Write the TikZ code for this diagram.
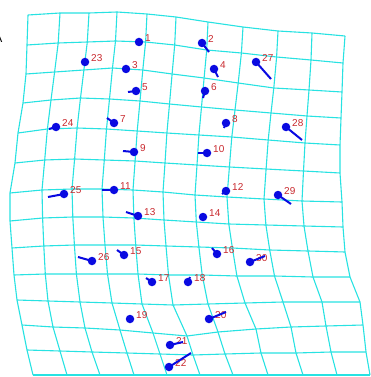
\documentclass[tikz,border=0pt]{standalone}
\usepackage{fontspec}
\setmainfont{Liberation Sans}
\definecolor{gridc}{RGB}{40,226,226}
\definecolor{dotc}{RGB}{10,10,225}
\definecolor{labc}{RGB}{200,40,45}
\begin{document}
\begin{tikzpicture}[x=1pt,y=-1pt,
  gridline/.style={draw=gridc, line width=1.1pt, line join=round},
  dot/.style={circle, fill=dotc, inner sep=0pt, minimum size=8.5pt},
  tail/.style={draw=dotc, line width=2pt},
  lab/.style={anchor=west, inner sep=0pt, text=labc, font=\fontsize{10}{12}\selectfont}]
\useasboundingbox (0,0) rectangle (371,377);
% grid nodes, row by row
\foreach \x/\y [count=\i from 0] in {28/15,60/13,89/13,117/12,147/14,176/17,208/22,243/27,278/31,312/33,345/36} \coordinate (g\i-0) at (\x,\y);
\foreach \x/\y [count=\i from 0] in {27/45,58.2/43,87.3/42,115.5/41,145.6/42,174.7/45,206.7/50,241.4/53,276.6/57,311/60,343/63} \coordinate (g\i-1) at (\x,\y);
\foreach \x/\y [count=\i from 0] in {26/74,54.6/72,83.9/70,112.5/68,142.8/70,172.1/74,204.1/78,238.2/83,273.8/88,309/90,342/92} \coordinate (g\i-2) at (\x,\y);
\foreach \x/\y [count=\i from 0] in {23/103,51/100,80.5/98,109.5/99,140/101,169.5/104,201.5/107,235/110,271/113,307/116,341/118} \coordinate (g\i-3) at (\x,\y);
\foreach \x/\y [count=\i from 0] in {18/133,47.4/129,77.1/128,106.5/129,137.2/131,166.9/133,198.9/135,231.8/137,268.2/140,305/143,340/145} \coordinate (g\i-4) at (\x,\y);
\foreach \x/\y [count=\i from 0] in {15/163,44.7/160,74.6/159,104.3/160,135.1/161,165/163,197/165,229.4/167,266.1/169,303.5/171,340/173} \coordinate (g\i-5) at (\x,\y);
\foreach \x/\y [count=\i from 0] in {10/193,42/190,72/189,102/189,133/190,163/192,195/195,227/197,264/199,302/201,342/202} \coordinate (g\i-6) at (\x,\y);
\foreach \x/\y [count=\i from 0] in {10/221,42.6/218,72.8/217,103/217,133.9/218,164/220,196.3/222,228.8/224,265.9/225,304/226,343/227} \coordinate (g\i-7) at (\x,\y);
\foreach \x/\y [count=\i from 0] in {12/248,43.8/246,74.4/245,105/245,135.7/245,166/246,198.9/247,232.4/248,269.7/250,308/251,345/252} \coordinate (g\i-8) at (\x,\y);
\foreach \x/\y [count=\i from 0] in {14/275,45.3/274,76.4/274,107.5/274,138/274,168.5/275,202.2/275,236.9/276,274.5/276,313/277,350/277} \coordinate (g\i-9) at (\x,\y);
\foreach \x/\y [count=\i from 0] in {17/300,48/301,80/302,112/303,142/304,173/305,208/304,245/303,283/302,322/302,360/302} \coordinate (g\i-10) at (\x,\y);
\foreach \x/\y [count=\i from 0] in {22/325,53/327,85/328,120/330,153/333,187/336,218/332,256/329,291/327,326/326,363/325} \coordinate (g\i-11) at (\x,\y);
\foreach \x/\y [count=\i from 0] in {27/350,60/351,92/352,127/353,160/354,193/355,225/354,261/353,296/353,331/352,366/352} \coordinate (g\i-12) at (\x,\y);
\foreach \x/\y [count=\i from 0] in {33/375,67/375,100/375,134/375,167/375,200/375,233/375,268/375,303/375,337/375,370/375} \coordinate (g\i-13) at (\x,\y);
% grid lines
\foreach \j in {0,...,13} \draw[gridline] (g0-\j) \foreach \i in {1,...,10}{ -- (g\i-\j)};
\foreach \i in {0,...,10} \draw[gridline] (g\i-0) \foreach \j in {1,...,13}{ -- (g\i-\j)};
% cut-off panel letter
\node[anchor=base east, inner sep=0pt, font=\fontsize{12}{14}\selectfont] (panel) at (2.5,43) {A};
% dots and labels
\foreach \n/\x/\y in {1/139/42,2/202/43,3/126/69,4/214/69,5/136/91,6/205/91,7/114/123,8/226/123,9/134/152,10/207/153,11/114/190,12/226/191,13/138/216,14/203/217,15/124/255,16/217/254,17/152/282,18/188/282,19/130/319,20/209/319,21/170/345,22/169/367,23/85/62,24/56/127,25/64/194,26/92/261,27/256/62,28/286/127,29/278/195,30/250/262}
{
  \node[dot] (d\n) at (\x,\y) {};
  \node[lab] (l\n) at (\x+6,\y-4) {\n};
}
% tails
\foreach \n/\x/\y in {2/209/52,4/218/77,5/128/92,6/203/98,7/107/118,8/224/128,9/123/151,10/198/153,11/102/190,12/222/194,13/126/212,15/117/250,16/212/248,17/146/278,18/190/277,20/226/312,21/183/342,22/191/353,24/49/129,25/48/197,26/78/257,27/271/79,28/302/140,29/291/204,30/265/256}
{
  \coordinate (t\n) at (\x,\y);
  \draw[tail] (d\n.center) -- (t\n);
}
\end{tikzpicture}
\end{document}
